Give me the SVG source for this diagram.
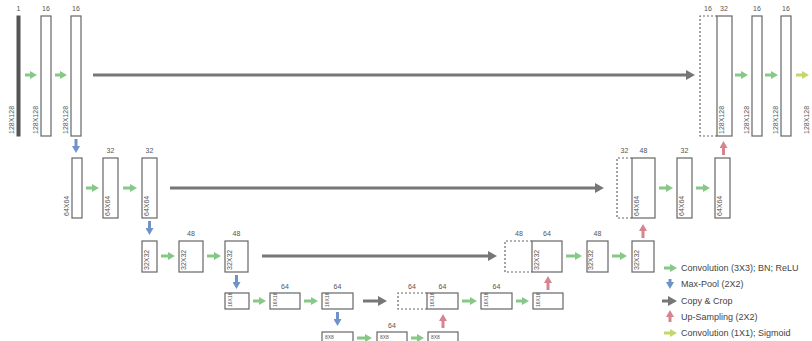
<svg xmlns="http://www.w3.org/2000/svg" width="812" height="341" viewBox="0 0 812 341">
<style>
text{font-family:"Liberation Sans",Arial,sans-serif;fill:#555}
.ch{font-size:7px;text-anchor:middle}
.sz{font-size:7px}
.sm{font-size:5px}
.lg{font-size:9px;fill:#444}
.b{fill:#fff;stroke:#666;stroke-width:1.2}
.in{fill:#555;stroke:#555;stroke-width:1}
.d{fill:none;stroke:#666;stroke-width:1.2;stroke-dasharray:2 2}
.g{stroke:#86c986;stroke-width:3;marker-end:url(#mg)}
.bl{stroke:#6f93c9;stroke-width:3;marker-end:url(#mb)}
.r{stroke:#d6848f;stroke-width:3;marker-end:url(#mr)}
.gr{stroke:#777;stroke-width:3;marker-end:url(#mgr)}
.y{stroke:#c5d66b;stroke-width:3;marker-end:url(#my)}
</style>
<defs>
<marker id="mg" markerUnits="userSpaceOnUse" markerWidth="8" markerHeight="8" refX="2" refY="4" orient="auto"><path d="M0,0L7,4L0,8z" fill="#86c986"/></marker>
<marker id="mb" markerUnits="userSpaceOnUse" markerWidth="8" markerHeight="8" refX="2" refY="4" orient="auto"><path d="M0,0L7,4L0,8z" fill="#6f93c9"/></marker>
<marker id="mr" markerUnits="userSpaceOnUse" markerWidth="8" markerHeight="8" refX="2" refY="4" orient="auto"><path d="M0,0L7,4L0,8z" fill="#d6848f"/></marker>
<marker id="mgr" markerUnits="userSpaceOnUse" markerWidth="10" markerHeight="10" refX="2" refY="5" orient="auto"><path d="M0,0L9,5L0,10z" fill="#777"/></marker>
<marker id="my" markerUnits="userSpaceOnUse" markerWidth="8" markerHeight="8" refX="2" refY="4" orient="auto"><path d="M0,0L7,4L0,8z" fill="#c5d66b"/></marker>
</defs>

<!-- Level 1 encoder -->
<g id="e1a"><rect class="in" x="17" y="16" width="3" height="120"/><text class="ch" x="18.5" y="11">1</text><text class="sz" transform="translate(14,134) rotate(-90)">128X128</text></g>
<g id="e1b"><rect class="b" x="41" y="16" width="10" height="120"/><text class="ch" x="46" y="11">16</text><text class="sz" transform="translate(38,134) rotate(-90)">128X128</text></g>
<g id="e1c"><rect class="b" x="71" y="16" width="10" height="120"/><text class="ch" x="76" y="11">16</text><text class="sz" transform="translate(68,134) rotate(-90)">128X128</text></g>

<!-- Level 2 encoder -->
<g id="e2a"><rect class="b" x="72" y="158" width="10" height="60"/><text class="sz" transform="translate(69,216) rotate(-90)">64X64</text></g>
<g id="e2b"><rect class="b" x="103" y="158" width="15" height="60"/><text class="ch" x="110.5" y="153">32</text><text class="sz" transform="translate(110,216) rotate(-90)">64X64</text></g>
<g id="e2c"><rect class="b" x="142" y="158" width="15" height="60"/><text class="ch" x="149.5" y="153">32</text><text class="sz" transform="translate(149,216) rotate(-90)">64X64</text></g>

<!-- Level 3 encoder -->
<g id="e3a"><rect class="b" x="142" y="241" width="15" height="31"/><text class="sz" transform="translate(149,270) rotate(-90)">32X32</text></g>
<g id="e3b"><rect class="b" x="179" y="241" width="24" height="31"/><text class="ch" x="191" y="236">48</text><text class="sz" transform="translate(186,270) rotate(-90)">32X32</text></g>
<g id="e3c"><rect class="b" x="225" y="241" width="23" height="31"/><text class="ch" x="236.5" y="236">48</text><text class="sz" transform="translate(232,270) rotate(-90)">32X32</text></g>

<!-- Level 4 encoder -->
<g id="e4a"><rect class="b" x="225" y="293" width="24" height="16"/><text class="sm" transform="translate(232,307) rotate(-90)">16X16</text></g>
<g id="e4b"><rect class="b" x="270" y="293" width="30" height="16"/><text class="ch" x="285" y="289">64</text><text class="sm" transform="translate(277,307) rotate(-90)">16X16</text></g>
<g id="e4c"><rect class="b" x="322" y="293" width="31" height="16"/><text class="ch" x="337.5" y="289">64</text><text class="sm" transform="translate(329,307) rotate(-90)">16X16</text></g>

<!-- Bottleneck -->
<g id="m1"><rect class="b" x="322" y="332" width="31" height="14"/><text class="sm" x="325" y="339">8X8</text></g>
<g id="m2"><rect class="b" x="377" y="332" width="30" height="14"/><text class="ch" x="392" y="328">64</text><text class="sm" x="380" y="339">8X8</text></g>
<g id="m3"><rect class="b" x="428" y="332" width="30" height="14"/><text class="sm" x="431" y="339">8X8</text></g>

<!-- Level 4 decoder -->
<g id="d4a"><path class="d" d="M427,293H398V309H427"/><text class="ch" x="412" y="289">64</text><rect class="b" x="427" y="293" width="31" height="16"/><text class="ch" x="442.5" y="289">64</text><text class="sm" transform="translate(434,307) rotate(-90)">16X16</text></g>
<g id="d4b"><rect class="b" x="481" y="293" width="31" height="16"/><text class="ch" x="496.5" y="289">64</text><text class="sm" transform="translate(488,307) rotate(-90)">16X16</text></g>
<g id="d4c"><rect class="b" x="533" y="293" width="30" height="16"/><text class="sm" transform="translate(540,307) rotate(-90)">16X16</text></g>

<!-- Level 3 decoder -->
<g id="d3a"><path class="d" d="M532,241H505V272H532"/><text class="ch" x="519" y="236">48</text><rect class="b" x="532" y="241" width="30" height="31"/><text class="ch" x="547" y="236">64</text><text class="sz" transform="translate(539,270) rotate(-90)">32X32</text></g>
<g id="d3b"><rect class="b" x="587" y="241" width="21" height="31"/><text class="ch" x="597.5" y="236">48</text><text class="sz" transform="translate(593,270) rotate(-90)">32X32</text></g>
<g id="d3c"><rect class="b" x="632" y="241" width="22" height="31"/><text class="sz" transform="translate(639,270) rotate(-90)">32X32</text></g>

<!-- Level 2 decoder -->
<g id="d2a"><path class="d" d="M632,158H617V218H632"/><text class="ch" x="624.5" y="153">32</text><rect class="b" x="632" y="158" width="23" height="60"/><text class="ch" x="643.5" y="153">48</text><text class="sz" transform="translate(639,216) rotate(-90)">64X64</text></g>
<g id="d2b"><rect class="b" x="677" y="158" width="15" height="60"/><text class="ch" x="684.5" y="153">32</text><text class="sz" transform="translate(684,216) rotate(-90)">64X64</text></g>
<g id="d2c"><rect class="b" x="715" y="158" width="15" height="60"/><text class="sz" transform="translate(722,216) rotate(-90)">64X64</text></g>

<!-- Level 1 decoder -->
<g id="d1a"><path class="d" d="M717,16H700V136H717"/><text class="ch" x="708" y="11">16</text><rect class="b" x="717" y="16" width="15" height="120"/><text class="ch" x="724" y="11">32</text><text class="sz" transform="translate(724,134) rotate(-90)">128X128</text></g>
<g id="d1b"><rect class="b" x="752" y="16" width="10" height="120"/><text class="ch" x="757" y="11">16</text><text class="sz" transform="translate(749,134) rotate(-90)">128X128</text></g>
<g id="d1c"><rect class="b" x="781" y="16" width="10" height="120"/><text class="ch" x="786" y="11">16</text><text class="sz" transform="translate(778,134) rotate(-90)">128X128</text></g>
<g id="out"><text class="sz" transform="translate(809,134) rotate(-90)">128X128</text></g>

<!-- Connectors -->
<g id="connectors">
<line class="g" x1="25" y1="75" x2="32" y2="75"/>
<line class="g" x1="55" y1="75" x2="62" y2="75"/>
<line class="gr" x1="93" y1="75" x2="688" y2="75"/>
<line class="g" x1="735" y1="75" x2="743" y2="75"/>
<line class="g" x1="765" y1="75" x2="773" y2="75"/>
<line class="y" x1="796" y1="75" x2="804" y2="75"/>

<line class="bl" x1="76" y1="139" x2="76" y2="148"/>
<line class="g" x1="86" y1="188" x2="94" y2="188"/>
<line class="g" x1="123" y1="188" x2="132" y2="188"/>
<line class="gr" x1="170" y1="188" x2="597" y2="188"/>
<line class="g" x1="659" y1="188" x2="668" y2="188"/>
<line class="g" x1="696" y1="188" x2="705" y2="188"/>
<line class="r" x1="723.5" y1="155" x2="723.5" y2="146"/>

<line class="bl" x1="149.5" y1="221" x2="149.5" y2="230"/>
<line class="g" x1="161" y1="256" x2="170" y2="256"/>
<line class="g" x1="207" y1="256" x2="216" y2="256"/>
<line class="gr" x1="262" y1="256" x2="490" y2="256"/>
<line class="g" x1="566" y1="256" x2="577" y2="256"/>
<line class="g" x1="612" y1="256" x2="622" y2="256"/>
<line class="r" x1="643" y1="238" x2="643" y2="229"/>

<line class="bl" x1="236.5" y1="275" x2="236.5" y2="284"/>
<line class="g" x1="253" y1="301" x2="261" y2="301"/>
<line class="g" x1="304" y1="301" x2="313" y2="301"/>
<line class="gr" x1="363" y1="301" x2="380" y2="301"/>
<line class="g" x1="462" y1="301" x2="472" y2="301"/>
<line class="g" x1="516" y1="301" x2="524" y2="301"/>
<line class="r" x1="548" y1="290" x2="548" y2="281"/>

<line class="bl" x1="337.5" y1="312" x2="337.5" y2="321"/>
<line class="g" x1="357" y1="338" x2="367" y2="338"/>
<line class="g" x1="411" y1="338" x2="419" y2="338"/>
<line class="r" x1="443" y1="328" x2="443" y2="319"/>
</g>

<!-- Legend -->
<g id="legend">
<line class="g" x1="664" y1="268" x2="672" y2="268"/><text class="lg" x="681" y="271">Convolution (3X3); BN; ReLU</text>
<line class="bl" x1="670" y1="279" x2="670" y2="284"/><text class="lg" x="681" y="287">Max-Pool (2X2)</text>
<line class="gr" x1="662" y1="301" x2="670" y2="301"/><text class="lg" x="681" y="304">Copy &amp; Crop</text>
<line class="r" x1="670" y1="322" x2="670" y2="315"/><text class="lg" x="681" y="320">Up-Sampling (2X2)</text>
<line class="y" x1="664" y1="333" x2="672" y2="333"/><text class="lg" x="681" y="336">Convolution (1X1); Sigmoid</text>
</g>
</svg>
